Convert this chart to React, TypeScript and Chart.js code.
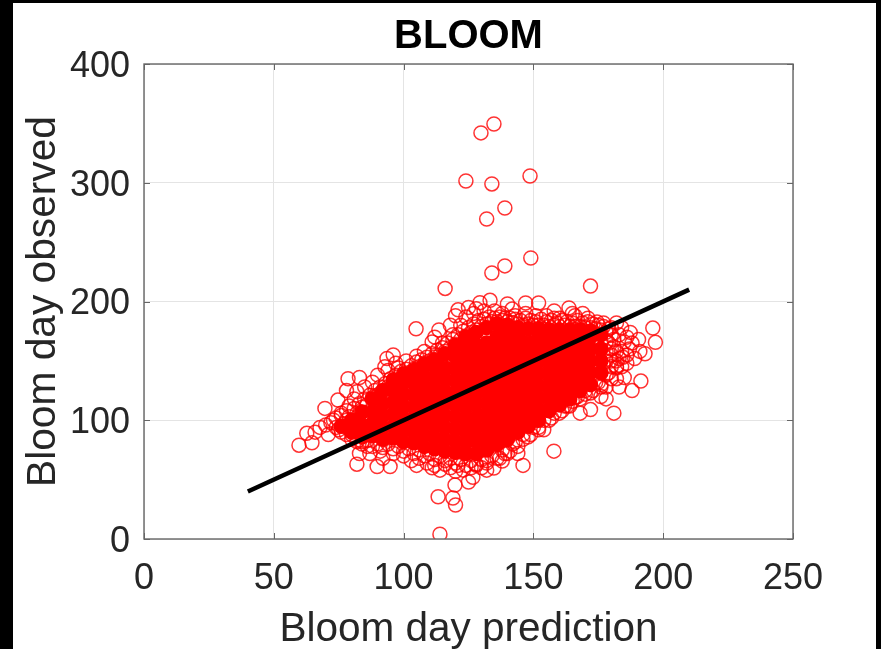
import React, { useEffect, useRef } from "react";
import { Chart, registerables } from "chart.js";

Chart.register(...registerables);

const xTicks = [0, 50, 100, 150, 200, 250];
const yTicks = [0, 100, 200, 300, 400];

const fitLine: [number, number][] = [[40, 40], [210, 210]];

const outliers: [number, number][] = [
  [129.8, 342], [134.8, 349.5], [124, 301.5], [134, 299], [148.7, 305.7], [132, 269.5], [139, 278.7],
  [134, 224], [139, 230], [149, 236.6], [116, 211], [172, 213], [114, 4], [120, 28.6], [119, 34.5],
  [113.3, 35.6], [119.8, 45.4], [125, 48], [126.7, 52], [157.9, 74], [146, 62], [181, 106],
];

const fringe: [number, number][] = [
  [59.7, 79], [62.7, 89], [64.7, 81], [65.9, 90], [67.8, 94], [69.7, 110], [74.7, 117], [78.6, 135], [83, 136],
  [78, 125], [83, 72], [82, 63], [89.8, 61], [94.8, 61], [93.6, 152], [96, 155], [92.8, 145], [104.8, 177],
  [113.6, 176], [111, 166], [121, 193], [129.4, 199], [133.3, 201], [134.8, 59.8], [138, 65.7],
  [143, 81.7], [150.6, 100], [160, 113], [168, 106], [172, 109], [188, 125], [191.4, 133], [196, 177.6],
  [197, 165.6], [193, 156], [190.5, 168], [187.3, 174], [185, 136], [182, 135], [178, 128], [184.5, 153],
  [141.8, 193.6], [147, 198.7], [152, 198.7], [163.7, 194.6], [174.5, 182.7], [182, 182], [70, 96], [71, 88],
  [73, 100], [75, 92], [76, 106], [77, 97], [79, 112], [80, 88], [81, 118], [82, 124], [84, 82], [85, 128],
  [86, 78], [87, 72], [88, 132], [90, 138], [91, 74], [92, 68], [94, 142], [96, 72], [97, 148], [98, 144],
  [100, 70], [101, 150], [103, 66], [105, 154], [106, 68], [108, 158], [109, 64], [112, 62], [115, 165],
  [116, 63], [118, 60], [119, 172], [121, 62], [122, 180], [123, 58], [124, 187], [126, 60], [127, 190],
  [128, 62], [130, 60], [131, 192], [132, 66], [135, 192], [137, 68], [138, 190], [139, 72], [141, 74],
  [143, 188], [144, 72], [146, 84], [147, 190], [149, 88], [151, 188], [152, 94], [154, 92], [155, 188],
  [157, 102], [158, 186], [160, 186], [161, 108], [163, 112], [166, 188], [165, 116], [167, 120], [169, 190],
  [170, 122], [171, 186], [173, 125], [175, 132], [176, 120], [177, 182], [179, 140], [180, 178], [180, 150],
  [181, 162], [182, 144], [183, 172], [184, 158], [185, 166], [186, 148], [187, 160], [178, 118], [176, 128],
  [183, 128], [189, 152], [191, 158], [105, 62], [111, 60], [114, 58], [120, 57], [132, 58], [112, 170],
  [118, 180], [120, 188], [125, 195], [140, 198], [128, 194], [158, 192], [165, 190],
];

const upperEdge: [number, number][] = [
  [78, 108], [79, 103], [81, 110], [82, 106], [83, 114], [84, 111], [85, 118], [86, 113], [87, 121], [88, 119],
  [89, 125], [90, 121], [91, 128], [92, 124], [93, 131], [94, 128], [95, 135], [96, 131], [97, 138], [98, 134],
  [99, 141], [100, 137], [101, 143], [102, 140], [103, 146], [104, 143], [105, 149], [106, 145], [107, 151],
  [108, 148], [109, 153], [110, 150], [111, 156], [112, 153], [113, 159], [114, 155], [115, 161], [116, 158],
  [117, 165], [118, 161], [119, 168], [120, 164], [121, 172], [122, 168], [123, 175], [124, 171], [125, 178],
  [126, 174], [127, 181], [128, 176], [129, 184], [130, 179], [131, 185], [132, 181], [133, 187], [134, 183],
  [135, 186], [136, 183], [137, 187], [138, 184], [139, 186], [140, 183], [141, 186], [142, 182], [143, 185],
  [144, 181], [145, 184], [146, 180], [147, 186], [148, 181], [149, 184], [150, 180], [151, 183], [152, 180],
  [153, 185], [154, 180], [155, 183], [156, 179], [157, 184], [158, 180], [159, 182], [160, 179], [161, 184],
  [162, 180], [163, 183], [164, 179], [165, 182], [166, 179], [167, 184], [168, 179], [169, 182], [170, 178],
  [171, 183], [172, 178], [173, 181], [174, 177], [175, 180], [176, 176], [177, 179], [178, 174], [179, 177],
  [180, 172],
];

const lowerEdge: [number, number][] = [
  [78, 88], [80, 84], [82, 82], [84, 80], [86, 83], [88, 78], [90, 80], [92, 77], [94, 80], [96, 76], [98, 78],
  [100, 74], [102, 76], [104, 72], [106, 75], [108, 70], [110, 72], [112, 67], [114, 70], [116, 66], [118, 68],
  [120, 64], [122, 67], [124, 62], [126, 66], [128, 63], [130, 67], [132, 64], [134, 70], [136, 68], [138, 75],
  [140, 72], [142, 80], [144, 78], [146, 88], [148, 86], [150, 94], [152, 92], [154, 100], [156, 100], [158, 106],
  [160, 106], [162, 112], [164, 112], [166, 119], [168, 118], [170, 125], [172, 123], [174, 132], [176, 130],
  [178, 138], [180, 135], [182, 145], [183, 152], [182, 158], [181, 168], [179, 165], [72, 98], [74, 102],
  [74, 94], [76, 90], [76, 104], [78, 94], [78, 100], [180, 155], [182, 150], [184, 145], [186, 155], [188, 165],
  [186, 170], [184, 178], [178, 150], [178, 158], [178, 166], [180, 160], [180, 145],
];

const denseColumns: [number, number[]][] = [
  [76, [95]],
  [80, [90, 100]],
  [84, [86, 96, 107]],
  [88, [87, 97, 107, 118]],
  [92, [84, 94, 104, 114, 125]],
  [96, [85, 95, 105, 115, 125, 134]],
  [100, [82, 92, 102, 112, 122, 132, 139]],
  [104, [81, 91, 101, 111, 121, 131, 142]],
  [108, [78, 88, 98, 108, 118, 128, 138, 147]],
  [112, [76, 86, 96, 106, 116, 126, 136, 146, 151]],
  [116, [74, 84, 94, 104, 114, 124, 134, 144, 156]],
  [120, [73, 83, 93, 103, 113, 123, 133, 143, 153, 163]],
  [124, [72, 81, 91, 101, 111, 121, 131, 141, 151, 161, 170]],
  [128, [72, 83, 93, 103, 113, 123, 133, 143, 153, 163, 174]],
  [132, [75, 85, 95, 105, 115, 125, 135, 145, 155, 165, 178]],
  [136, [80, 90, 100, 110, 120, 130, 140, 150, 160, 170, 181]],
  [140, [84, 94, 104, 114, 124, 134, 144, 154, 164, 174, 180]],
  [144, [90, 100, 110, 120, 130, 140, 150, 160, 170, 178]],
  [148, [95, 105, 115, 125, 135, 145, 155, 165, 177]],
  [152, [100, 110, 120, 130, 140, 150, 160, 170, 177]],
  [156, [108, 118, 128, 138, 148, 158, 168, 176]],
  [160, [113, 123, 133, 143, 153, 163, 173, 176]],
  [164, [118, 128, 138, 148, 158, 168, 176]],
  [168, [125, 135, 145, 155, 165, 176]],
  [172, [130, 140, 150, 160, 170, 175]],
  [176, [140, 150, 160, 172]],
];

const toXY = (p: [number, number]) => ({ x: p[0], y: p[1] });
const dense = denseColumns.flatMap(([x, ys]) => ys.map((y) => ({ x, y })));

const inwardTicks = {
  id: "inwardTicks",
  afterDatasetsDraw(chart: any) {
    const { ctx, chartArea: a, scales } = chart;
    ctx.save();
    ctx.strokeStyle = "#666666";
    ctx.lineWidth = 1;
    ctx.beginPath();
    xTicks.forEach((t) => {
      const p = Math.round(scales.x.getPixelForValue(t)) + 0.5;
      ctx.moveTo(p, a.bottom); ctx.lineTo(p, a.bottom - 6);
      ctx.moveTo(p, a.top); ctx.lineTo(p, a.top + 6);
    });
    yTicks.forEach((t) => {
      const p = Math.round(scales.y.getPixelForValue(t)) + 0.5;
      ctx.moveTo(a.left, p); ctx.lineTo(a.left + 6, p);
      ctx.moveTo(a.right, p); ctx.lineTo(a.right - 6, p);
    });
    ctx.stroke();
    ctx.lineWidth = 1.4;
    ctx.strokeRect(a.left, a.top, a.right - a.left, a.bottom - a.top);
    ctx.restore();
  },
};

export default function App() {
  const ref = useRef<HTMLCanvasElement>(null);
  useEffect(() => {
    const circle = {
      showLine: false,
      pointStyle: "circle",
      pointRadius: 7,
      pointBorderWidth: 1.5,
      pointBorderColor: "rgba(255,0,0,0.8)",
      pointBackgroundColor: "rgba(0,0,0,0)",
    };
    const chart = new Chart(ref.current!, {
      type: "scatter",
      data: {
        datasets: [
          {
            label: "Fit",
            data: fitLine.map(toXY),
            showLine: true,
            pointRadius: 0,
            borderColor: "#000000",
            borderWidth: 4.5,
            order: 0,
          },
          {
            ...circle,
            label: "Dense",
            data: dense,
            pointBackgroundColor: "#ff0000",
            pointBorderColor: "#ff0000",
            order: 1,
          },
          { ...circle, label: "Upper edge", data: upperEdge.map(toXY), order: 2 },
          { ...circle, label: "Lower edge", data: lowerEdge.map(toXY), order: 2 },
          { ...circle, label: "Fringe", data: fringe.map(toXY), order: 3 },
          { ...circle, label: "Outliers", data: outliers.map(toXY), order: 4 },
        ],
      },
      options: {
        responsive: false,
        animation: false,
        layout: { padding: { right: 83, left: 0, top: 0, bottom: 0 } },
        plugins: {
          legend: { display: false },
          tooltip: { enabled: false },
          title: {
            display: true,
            text: "BLOOM",
            color: "#000000",
            fullSize: false,
            font: { family: "Liberation Sans", size: 40, weight: "bold" },
            padding: { top: 10, bottom: 3 },
          },
        },
        scales: {
          x: {
            type: "linear",
            min: 0,
            max: 250,
            afterBuildTicks: (s: any) => { s.ticks = xTicks.map((value) => ({ value })); },
            afterFit: (s: any) => { s.height = 110; },
            grid: { color: "#e4e4e4", drawTicks: false, lineWidth: 1 },
            border: { display: false },
            ticks: {
              color: "#262626",
              padding: 18,
              maxRotation: 0,
              font: { family: "Liberation Sans", size: 36 },
            },
            title: {
              display: true,
              text: "Bloom day prediction",
              color: "#262626",
              padding: { top: 7, bottom: -5 },
              font: { family: "Liberation Sans", size: 40.5 },
            },
          },
          y: {
            type: "linear",
            min: 0,
            max: 400,
            afterBuildTicks: (s: any) => { s.ticks = yTicks.map((value) => ({ value })); },
            afterFit: (s: any) => { s.width = 131; },
            grid: { color: "#e4e4e4", drawTicks: false, lineWidth: 1 },
            border: { display: false },
            ticks: {
              color: "#262626",
              padding: 14,
              labelOffset: 3,
              font: { family: "Liberation Sans", size: 36 },
            },
            title: {
              display: true,
              text: "Bloom day observed",
              color: "#262626",
              padding: { top: 6, bottom: 0 },
              font: { family: "Liberation Sans", size: 40.7 },
            },
          },
        },
      },
      plugins: [inwardTicks],
    } as any);
    return () => chart.destroy();
  }, []);

  return (
    <div style={{ position: "fixed", inset: 0, background: "#000000", overflow: "hidden" }}>
      <div style={{ position: "absolute", left: 13, top: 3, width: 863, height: 646, background: "#ffffff" }}>
        <canvas ref={ref} width={863} height={646} style={{ display: "block", filter: "blur(0.5px)" }} />
      </div>
    </div>
  );
}
